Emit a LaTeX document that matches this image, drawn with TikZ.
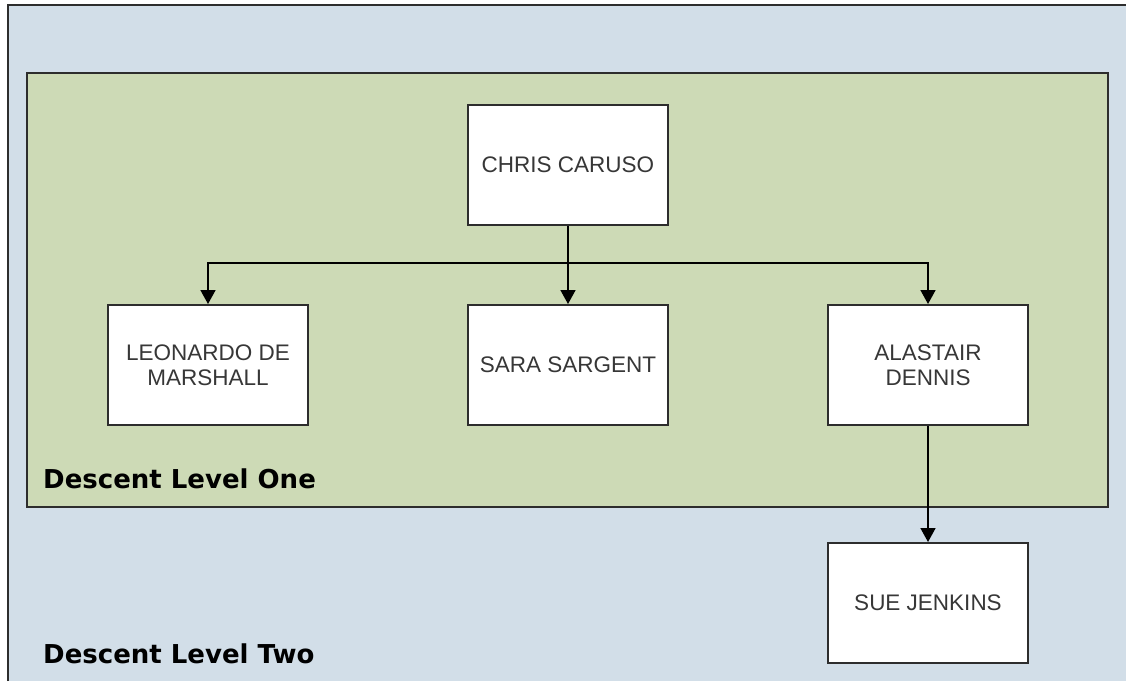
\documentclass[tikz,border=0pt]{standalone}
\usepackage{fontspec}
\setmainfont{Liberation Sans}
\newfontfamily\labelfont{DejaVu Sans}
\usetikzlibrary{arrows.meta}
\definecolor{bluebg}{RGB}{210,222,232}
\definecolor{greenbg}{RGB}{205,218,182}
\definecolor{edgec}{RGB}{45,45,45}
\definecolor{txt}{RGB}{55,55,55}
\tikzset{
  person/.style={draw=edgec, line width=2pt, fill=white, minimum width=200pt, minimum height=120pt,
    inner sep=0pt, align=center, text=txt, font=\fontsize{22.5}{25}\selectfont},
  arr/.style={draw=black, line width=1.6pt, -{Triangle[width=15pt,length=14pt]}},
  levellabel/.style={anchor=base west, inner sep=0pt, font=\labelfont\bfseries\fontsize{26}{30}\selectfont, text=black}
}
\begin{document}
\begin{tikzpicture}[x=1pt,y=-1pt]
\useasboundingbox (0,0) rectangle (1126,681);
\fill[white] (0,0) rectangle (1126,681);
\fill[bluebg] (8,5) rectangle (1126,681);
\draw[edgec, line width=2pt] (8,681) -- (8,5) -- (1126,5);
\draw[edgec, line width=2pt, fill=greenbg] (27,73) rectangle (1108,507);

\node[person] (chris) at (568,165) {CHRIS CARUSO};
\node[person] (leo) at (208,365) {LEONARDO DE\\MARSHALL};
\node[person] (sara) at (568,365) {SARA SARGENT};
\node[person] (alastair) at (928,365) {ALASTAIR\\DENNIS};
\node[person] (sue) at (928,603) {SUE JENKINS};

\coordinate (bus) at (568,263);
\draw[line width=1.6pt] (chris.south) -- (bus);
\draw[arr] (bus) -- (sara.north);
\draw[arr] (bus) -| (leo.north);
\draw[arr] (bus) -| (alastair.north);
\draw[arr] (alastair.south) -- (sue.north);

\node[levellabel] (l1) at (43,488) {Descent Level One};
\node[levellabel] (l2) at (43,663) {Descent Level Two};
\end{tikzpicture}
\end{document}
